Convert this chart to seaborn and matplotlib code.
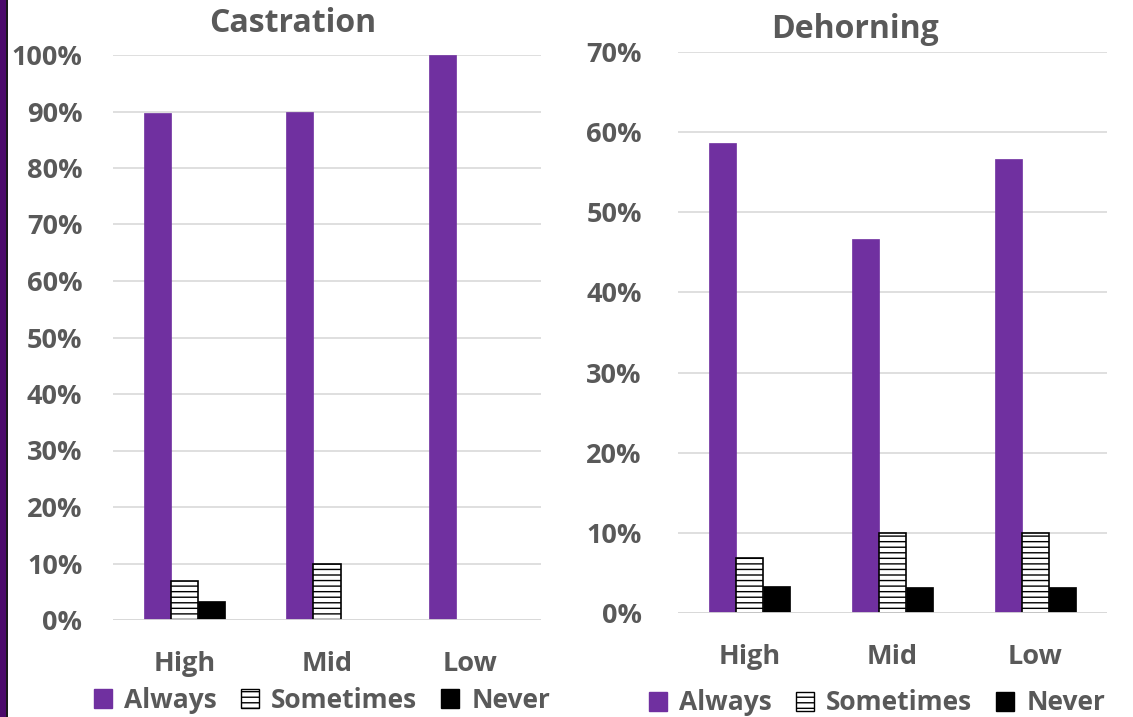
import pandas as pd
import matplotlib.pyplot as plt
import matplotlib.patches as mpatches
import numpy as np
import seaborn as sns

# data
groups = ['High', 'Mid', 'Low']
responses = ['Always', 'Sometimes', 'Never']
castration_always = [0.897, 0.90, 1.00]
castration_sometimes = [0.069, 0.10, 0.0]
castration_never = [0.034, 0.0, 0.0]
dehorning_always = [0.586, 0.467, 0.567]
dehorning_sometimes = [0.069, 0.10, 0.10]
dehorning_never = [0.034, 0.033, 0.033]
yticks_castration = np.arange(0, 1.01, 0.1)
yticks_dehorning = np.arange(0, 0.71, 0.1)

PURPLE = '#7030A0'
GREY = '#595959'


def make_df(always, sometimes, never):
    rows = []
    for resp, vals in zip(responses, [always, sometimes, never]):
        for g, v in zip(groups, vals):
            rows.append({'group': g, 'response': resp, 'value': v})
    return pd.DataFrame(rows)


sns.set_theme(style='white')
plt.rcParams['font.family'] = ['Open Sans', 'DejaVu Sans']
plt.rcParams['font.weight'] = 'bold'
plt.rcParams['hatch.linewidth'] = 1.0

W, H = 1133, 717
fig = plt.figure(figsize=(W / 100, H / 100), dpi=100)

# dark strip on the left edge of the slide
fig.patches.append(mpatches.Rectangle((0, 0), 6 / W, 1, transform=fig.transFigure,
                                      facecolor='#4B0B6B', edgecolor='none'))
fig.patches.append(mpatches.Rectangle((6 / W, 0), 2 / W, 1, transform=fig.transFigure,
                                      facecolor='#1a1a1a', edgecolor='none'))

ax1 = fig.add_axes([113 / W, (H - 620) / H, 428 / W, 565 / H])
ax2 = fig.add_axes([678 / W, (H - 613) / H, 429 / W, 561 / H])

panels = [
    (ax1, make_df(castration_always, castration_sometimes, castration_never),
     'Castration', yticks_castration, 1.0, 293, 24, 700, 322, 22),
    (ax2, make_df(dehorning_always, dehorning_sometimes, dehorning_never),
     'Dehorning', yticks_dehorning, 0.7, 855, 30, 703, 877, 26),
]

for ax, df, title, yt, ymax, tx, ty, ly, lx, ypad in panels:
    sns.barplot(data=df, x='group', y='value', hue='response', order=groups,
                hue_order=responses, width=0.57, ax=ax, legend=False,
                palette=[PURPLE, 'white', 'black'], saturation=1)
    for cont, resp in zip(ax.containers, responses):
        for bar in cont:
            if bar.get_height() <= 0:
                bar.set_visible(False)
                continue
            if resp == 'Always':
                bar.set_facecolor(PURPLE)
                bar.set_edgecolor(PURPLE)
                bar.set_linewidth(0.5)
            elif resp == 'Sometimes':
                bar.set_facecolor('white')
                bar.set_edgecolor('black')
                bar.set_hatch('---')
                bar.set_linewidth(1.2)
            else:
                bar.set_facecolor('black')
                bar.set_edgecolor('black')
                bar.set_linewidth(0.5)

    ax.set_ylim(0, ymax)
    ax.set_yticks(yt)
    ax.set_yticklabels([f'{int(round(t * 100))}%' for t in yt])
    ax.set_xlim(-0.5, 2.5)
    ax.yaxis.grid(True, color='#d9d9d9', linewidth=1.2)
    ax.set_axisbelow(True)
    for s in ax.spines.values():
        s.set_visible(False)
    ax.axhline(0, color='#d9d9d9', linewidth=2, zorder=1)
    ax.tick_params(axis='y', length=0, pad=ypad, labelsize=19.5, labelcolor=GREY)
    ax.tick_params(axis='x', length=0, pad=22, labelsize=19.5, labelcolor=GREY)
    for lab in ax.get_yticklabels() + ax.get_xticklabels():
        lab.set_fontweight('bold')
    ax.set_xlabel('')
    ax.set_ylabel('')
    fig.text(tx / W, 1 - ty / H, title, ha='center', va='center', fontsize=23,
             fontweight='bold', color=GREY)

    handles = [
        mpatches.Patch(facecolor=PURPLE, edgecolor=PURPLE, label='Always'),
        mpatches.Patch(facecolor='white', edgecolor='black', hatch='---', label='Sometimes'),
        mpatches.Patch(facecolor='black', edgecolor='black', label='Never'),
    ]
    fig.legend(handles=handles, loc='center', bbox_to_anchor=(lx / W, 1 - ly / H),
               ncol=3, frameon=False, handlelength=0.7, handleheight=0.7,
               handletextpad=0.45, columnspacing=0.9, labelcolor=GREY,
               prop={'weight': 'bold', 'size': 19})

fig.savefig('out.png', dpi=100)
